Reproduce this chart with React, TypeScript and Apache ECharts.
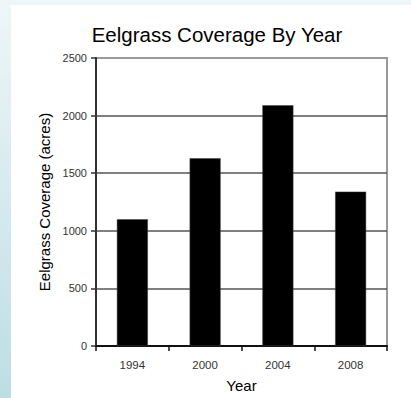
import React, { useEffect, useRef } from "react";
import * as echarts from "echarts";

const years = ["1994", "2000", "2004", "2008"];
const coverage = [1100, 1630, 2090, 1340];
const yTicks = { min: 0, max: 2500, interval: 500 };
const titleText = "Eelgrass Coverage By Year";
const xName = "Year";
const yName = "Eelgrass Coverage (acres)";

const FONT = "'Liberation Sans', Arial, Helvetica, sans-serif";

export default function App() {
  const ref = useRef<HTMLDivElement>(null);
  useEffect(() => {
    if (!ref.current) return;
    const chart = echarts.init(ref.current, null, { renderer: "svg" });
    chart.setOption({
      animation: false,
      backgroundColor: "transparent",
      title: {
        text: titleText,
        left: 212,
        textAlign: "center",
        top: 19,
        textStyle: { fontFamily: FONT, fontSize: 20.5, fontWeight: "normal", color: "#000" },
      },
      grid: {
        left: 96,
        right: 24,
        top: 58,
        bottom: 49,
        show: true,
        borderColor: "#999",
        borderWidth: 2,
        backgroundColor: "#fff",
      },
      xAxis: {
        type: "category",
        data: years,
        name: xName,
        nameLocation: "middle",
        nameGap: 32,
        nameTextStyle: { fontFamily: FONT, fontSize: 15, color: "#000" },
        axisLine: { show: true, lineStyle: { color: "#111", width: 2 } },
        axisTick: { show: true, inside: false, length: 5, lineStyle: { color: "#111", width: 1.5 } },
        axisLabel: { fontFamily: FONT, fontSize: 11.5, color: "#333", margin: 13 },
        splitLine: { show: false },
      },
      yAxis: {
        type: "value",
        min: yTicks.min,
        max: yTicks.max,
        interval: yTicks.interval,
        name: yName,
        nameLocation: "middle",
        nameRotate: 90,
        nameGap: 36,
        nameTextStyle: { fontFamily: FONT, fontSize: 15, color: "#000" },
        axisLine: { show: true, lineStyle: { color: "#333", width: 2 } },
        axisTick: { show: true, inside: false, length: 5, lineStyle: { color: "#333", width: 1.5 } },
        axisLabel: {
          fontFamily: FONT,
          fontSize: 11,
          color: "#333",
          margin: 9,
          formatter: (v: number) => String(v),
        },
        splitLine: { show: true, showMaxLine: false, lineStyle: { color: "#555", width: 1.5 } },
      },
      series: [
        {
          type: "bar",
          data: coverage,
          barWidth: 31,
          itemStyle: { color: "#000", borderColor: "#444", borderWidth: 0.5 },
        },
      ],
    });
    return () => chart.dispose();
  }, []);

  return (
    <div
      style={{
        position: "fixed",
        left: 0,
        top: 0,
        width: 411,
        height: 398,
        background: "linear-gradient(to bottom, #eef6f8 0%, #d6eaee 50%, #bddde4 100%)",
        overflow: "hidden",
      }}
    >
      <div
        style={{ position: "absolute", left: 11, top: 5, width: 400, height: 393, background: "#fff" }}
      />
      <div ref={ref} style={{ position: "absolute", left: 0, top: 0, width: 411, height: 398 }} />
    </div>
  );
}
